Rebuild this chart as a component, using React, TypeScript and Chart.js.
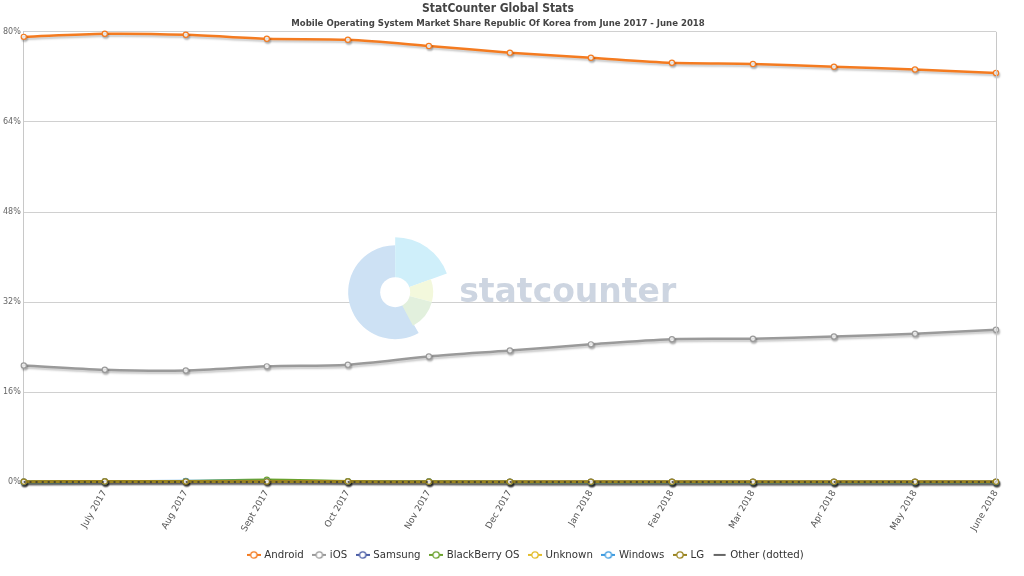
import React, { useEffect, useRef } from "react";
import { Chart, registerables } from "chart.js";

Chart.register(...registerables);

const months = [
  "June 2017", "July 2017", "Aug 2017", "Sept 2017", "Oct 2017", "Nov 2017", "Dec 2017",
  "Jan 2018", "Feb 2018", "Mar 2018", "Apr 2018", "May 2018", "June 2018",
];
const android = [79.1, 79.65, 79.47, 78.76, 78.58, 77.5, 76.3, 75.4, 74.5, 74.3, 73.8, 73.3, 72.7];
const ios = [20.75, 20.0, 19.87, 20.6, 20.9, 22.35, 23.4, 24.5, 25.4, 25.5, 25.9, 26.4, 27.1];
const samsung = [0.15, 0.2, 0.2, 0.2, 0.15, 0.15, 0.1, 0.1, 0.1, 0.1, 0.1, 0.1, 0.1];
const blackberry = [0.05, 0.1, 0.2, 0.45, 0.2, 0.15, 0.05, 0.03, 0.03, 0.02, 0.02, 0.02, 0.02];
const unknown = [0.1, 0.15, 0.15, 0.1, 0.1, 0.1, 0.05, 0.05, 0.05, 0.05, 0.05, 0.05, 0.05];
const windows = [0.05, 0.1, 0.25, 0.2, 0.1, 0.1, 0.05, 0.03, 0.03, 0.03, 0.03, 0.02, 0.02];
const lg = [0.1, 0.15, 0.15, 0.15, 0.15, 0.1, 0.1, 0.1, 0.1, 0.1, 0.1, 0.1, 0.1];
const other = [0.05, 0.05, 0.05, 0.05, 0.05, 0.05, 0.05, 0.05, 0.05, 0.05, 0.05, 0.05, 0.05];
const yTicks = [0, 16, 32, 48, 64, 80];

const FONT = "'DejaVu Sans', Verdana, sans-serif";

const watermark = {
  id: "watermark",
  beforeDatasetsDraw(chart: any) {
    const { ctx, chartArea } = chart;
    const cx = chartArea.left + (chartArea.right - chartArea.left) * 0.382;
    const cy = chartArea.top + (chartArea.bottom - chartArea.top) * 0.578;
    const seg = (r: number, a0: number, a1: number, color: string) => {
      ctx.beginPath();
      ctx.moveTo(cx, cy);
      ctx.arc(cx, cy, r, (a0 * Math.PI) / 180, (a1 * Math.PI) / 180);
      ctx.closePath();
      ctx.fillStyle = color;
      ctx.fill();
    };
    ctx.save();
    seg(47, 60, 270, "#cde1f4");
    seg(55, -90, -20, "#cfeffa");
    seg(38, -20, 15, "#f3f8dc");
    seg(38, 15, 62, "#e2f0dd");
    ctx.beginPath();
    ctx.arc(cx, cy, 15, 0, Math.PI * 2);
    ctx.fillStyle = "#ffffff";
    ctx.fill();
    ctx.font = `bold 33px ${FONT}`;
    ctx.fillStyle = "#cdd5e1";
    ctx.textBaseline = "alphabetic";
    ctx.textAlign = "left";
    ctx.fillText("statcounter", cx + 64, cy + 10);
    ctx.restore();
  },
  afterDraw(chart: any) {
    const { ctx, chartArea } = chart;
    ctx.save();
    ctx.strokeStyle = "#c8c8c8";
    ctx.lineWidth = 1;
    ctx.beginPath();
    ctx.moveTo(Math.round(chartArea.right) + 0.5, chartArea.top);
    ctx.lineTo(Math.round(chartArea.right) + 0.5, chartArea.bottom);
    ctx.stroke();
    ctx.restore();
  },
};

const legendShift = {
  id: "legendShift",
  afterLayout(chart: any) {
    const l = chart.legend;
    if (l) {
      l.left += 28;
      l.right += 28;
    }
  },
};

const shadow = {
  id: "lineShadow",
  beforeDatasetDraw(chart: any, args: any) {
    const ctx = chart.ctx;
    ctx.save();
    if (args.meta.label && String(args.meta.label).startsWith("Other")) return;
    ctx.shadowColor = "rgba(0,0,0,0.22)";
    ctx.shadowBlur = 2;
    ctx.shadowOffsetX = 1;
    ctx.shadowOffsetY = 2;
  },
  afterDatasetDraw(chart: any) {
    chart.ctx.restore();
  },
};

function legendIcon(color: string, lineOnly: boolean) {
  const c = document.createElement("canvas");
  c.width = 14;
  c.height = 10;
  const g = c.getContext("2d")!;
  g.strokeStyle = color;
  g.lineWidth = 2;
  g.beginPath();
  g.moveTo(lineOnly ? 1 : 0, 5);
  g.lineTo(lineOnly ? 13 : 14, 5);
  g.stroke();
  if (!lineOnly) {
    g.beginPath();
    g.arc(7, 5, 3.2, 0, Math.PI * 2);
    g.fillStyle = "#fff";
    g.fill();
    g.lineWidth = 1.3;
    g.stroke();
  }
  return c;
}

function ds(label: string, data: number[], color: string, width: number, order: number, dashed = false) {
  return {
    label,
    data,
    borderColor: color,
    backgroundColor: "#ffffff",
    pointBorderColor: color,
    pointBackgroundColor: "#ffffff",
    pointRadius: dashed ? 0 : 2.6,
    pointBorderWidth: 1.2,
    borderWidth: width,
    borderDash: dashed ? [2, 4] : [],
    tension: 0.3,
    clip: false as any,
    order,
    fill: false,
  };
}

export default function App() {
  const ref = useRef<HTMLCanvasElement>(null);
  useEffect(() => {
    document.body.style.margin = "0";
    const sets = [
      ds("Android", android, "#f47b20", 2.5, 7),
      ds("iOS", ios, "#9a9a9a", 2.5, 6),
      ds("Samsung", samsung, "#4a5da6", 2.5, 5),
      ds("BlackBerry OS", blackberry, "#6aa12c", 2.5, 4),
      ds("Unknown", unknown, "#e3bd2b", 2.5, 3),
      ds("Windows", windows, "#3d9be0", 2.5, 2),
      ds("LG", lg, "#9a8420", 3, 1),
      ds("Other (dotted)", other, "#333333", 1.5, 0, true),
    ];
    const icons = sets.map((s, i) => legendIcon(i === 7 ? "#666666" : (s.borderColor as string), i === 7));
    const chart = new Chart(ref.current!, {
      type: "line",
      data: { labels: months, datasets: sets as any },
      options: {
        animation: false,
        responsive: true,
        maintainAspectRatio: false,
        layout: { padding: { left: 0, right: 28, top: 0, bottom: 6 } },
        plugins: {
          title: {
            display: true,
            text: "StatCounter Global Stats",
            color: "#444",
            font: { family: "'DejaVu Sans Condensed', " + FONT, size: 12, weight: "bold" },
            padding: { top: 2, bottom: 1 },
          },
          subtitle: {
            display: true,
            text: "Mobile Operating System Market Share Republic Of Korea from June 2017 - June 2018",
            color: "#444",
            font: { family: "'DejaVu Sans Condensed', " + FONT, size: 9.5, weight: "bold" },
            padding: { bottom: 3 },
          },
          legend: {
            position: "bottom",
            labels: {
              usePointStyle: true,
              pointStyleWidth: 11,
              boxHeight: 10,
              padding: 10,
              color: "#333",
              font: { family: FONT, size: 10.2 },
              sort: (a: any, b: any) => a.datasetIndex - b.datasetIndex,
              generateLabels: (c: any) => {
                const items = Chart.defaults.plugins.legend.labels.generateLabels(c);
                return items.map((it: any) => ({ ...it, pointStyle: icons[it.datasetIndex] }));
              },
            },
          },
          tooltip: { enabled: false },
        },
        scales: {
          x: {
            offset: false,
            grid: { display: false, drawTicks: false },
            border: { display: true, color: "#c8c8c8" },
            ticks: {
              color: "#555",
              font: { family: FONT, size: 9 },
              minRotation: 60,
              maxRotation: 60,
              autoSkip: false,
              padding: 6,
              callback: (_v: any, i: number) => (i === 0 ? "" : months[i]),
            },
          },
          y: {
            min: 0,
            max: 80,
            afterBuildTicks: (axis: any) => {
              axis.ticks = yTicks.map((v) => ({ value: v }));
            },
            grid: { color: "#d0d0d0", drawTicks: false },
            border: { display: true, color: "#c8c8c8" },
            ticks: {
              color: "#666",
              font: { family: FONT, size: 8 },
              padding: 3,
              callback: (v: any) => v + "%",
            },
          },
        },
      },
      plugins: [watermark, shadow, legendShift],
    });
    return () => chart.destroy();
  }, []);
  return (
    <div style={{ position: "fixed", left: 0, top: 0, width: 1024, height: 576 }}>
      <canvas ref={ref} />
    </div>
  );
}
